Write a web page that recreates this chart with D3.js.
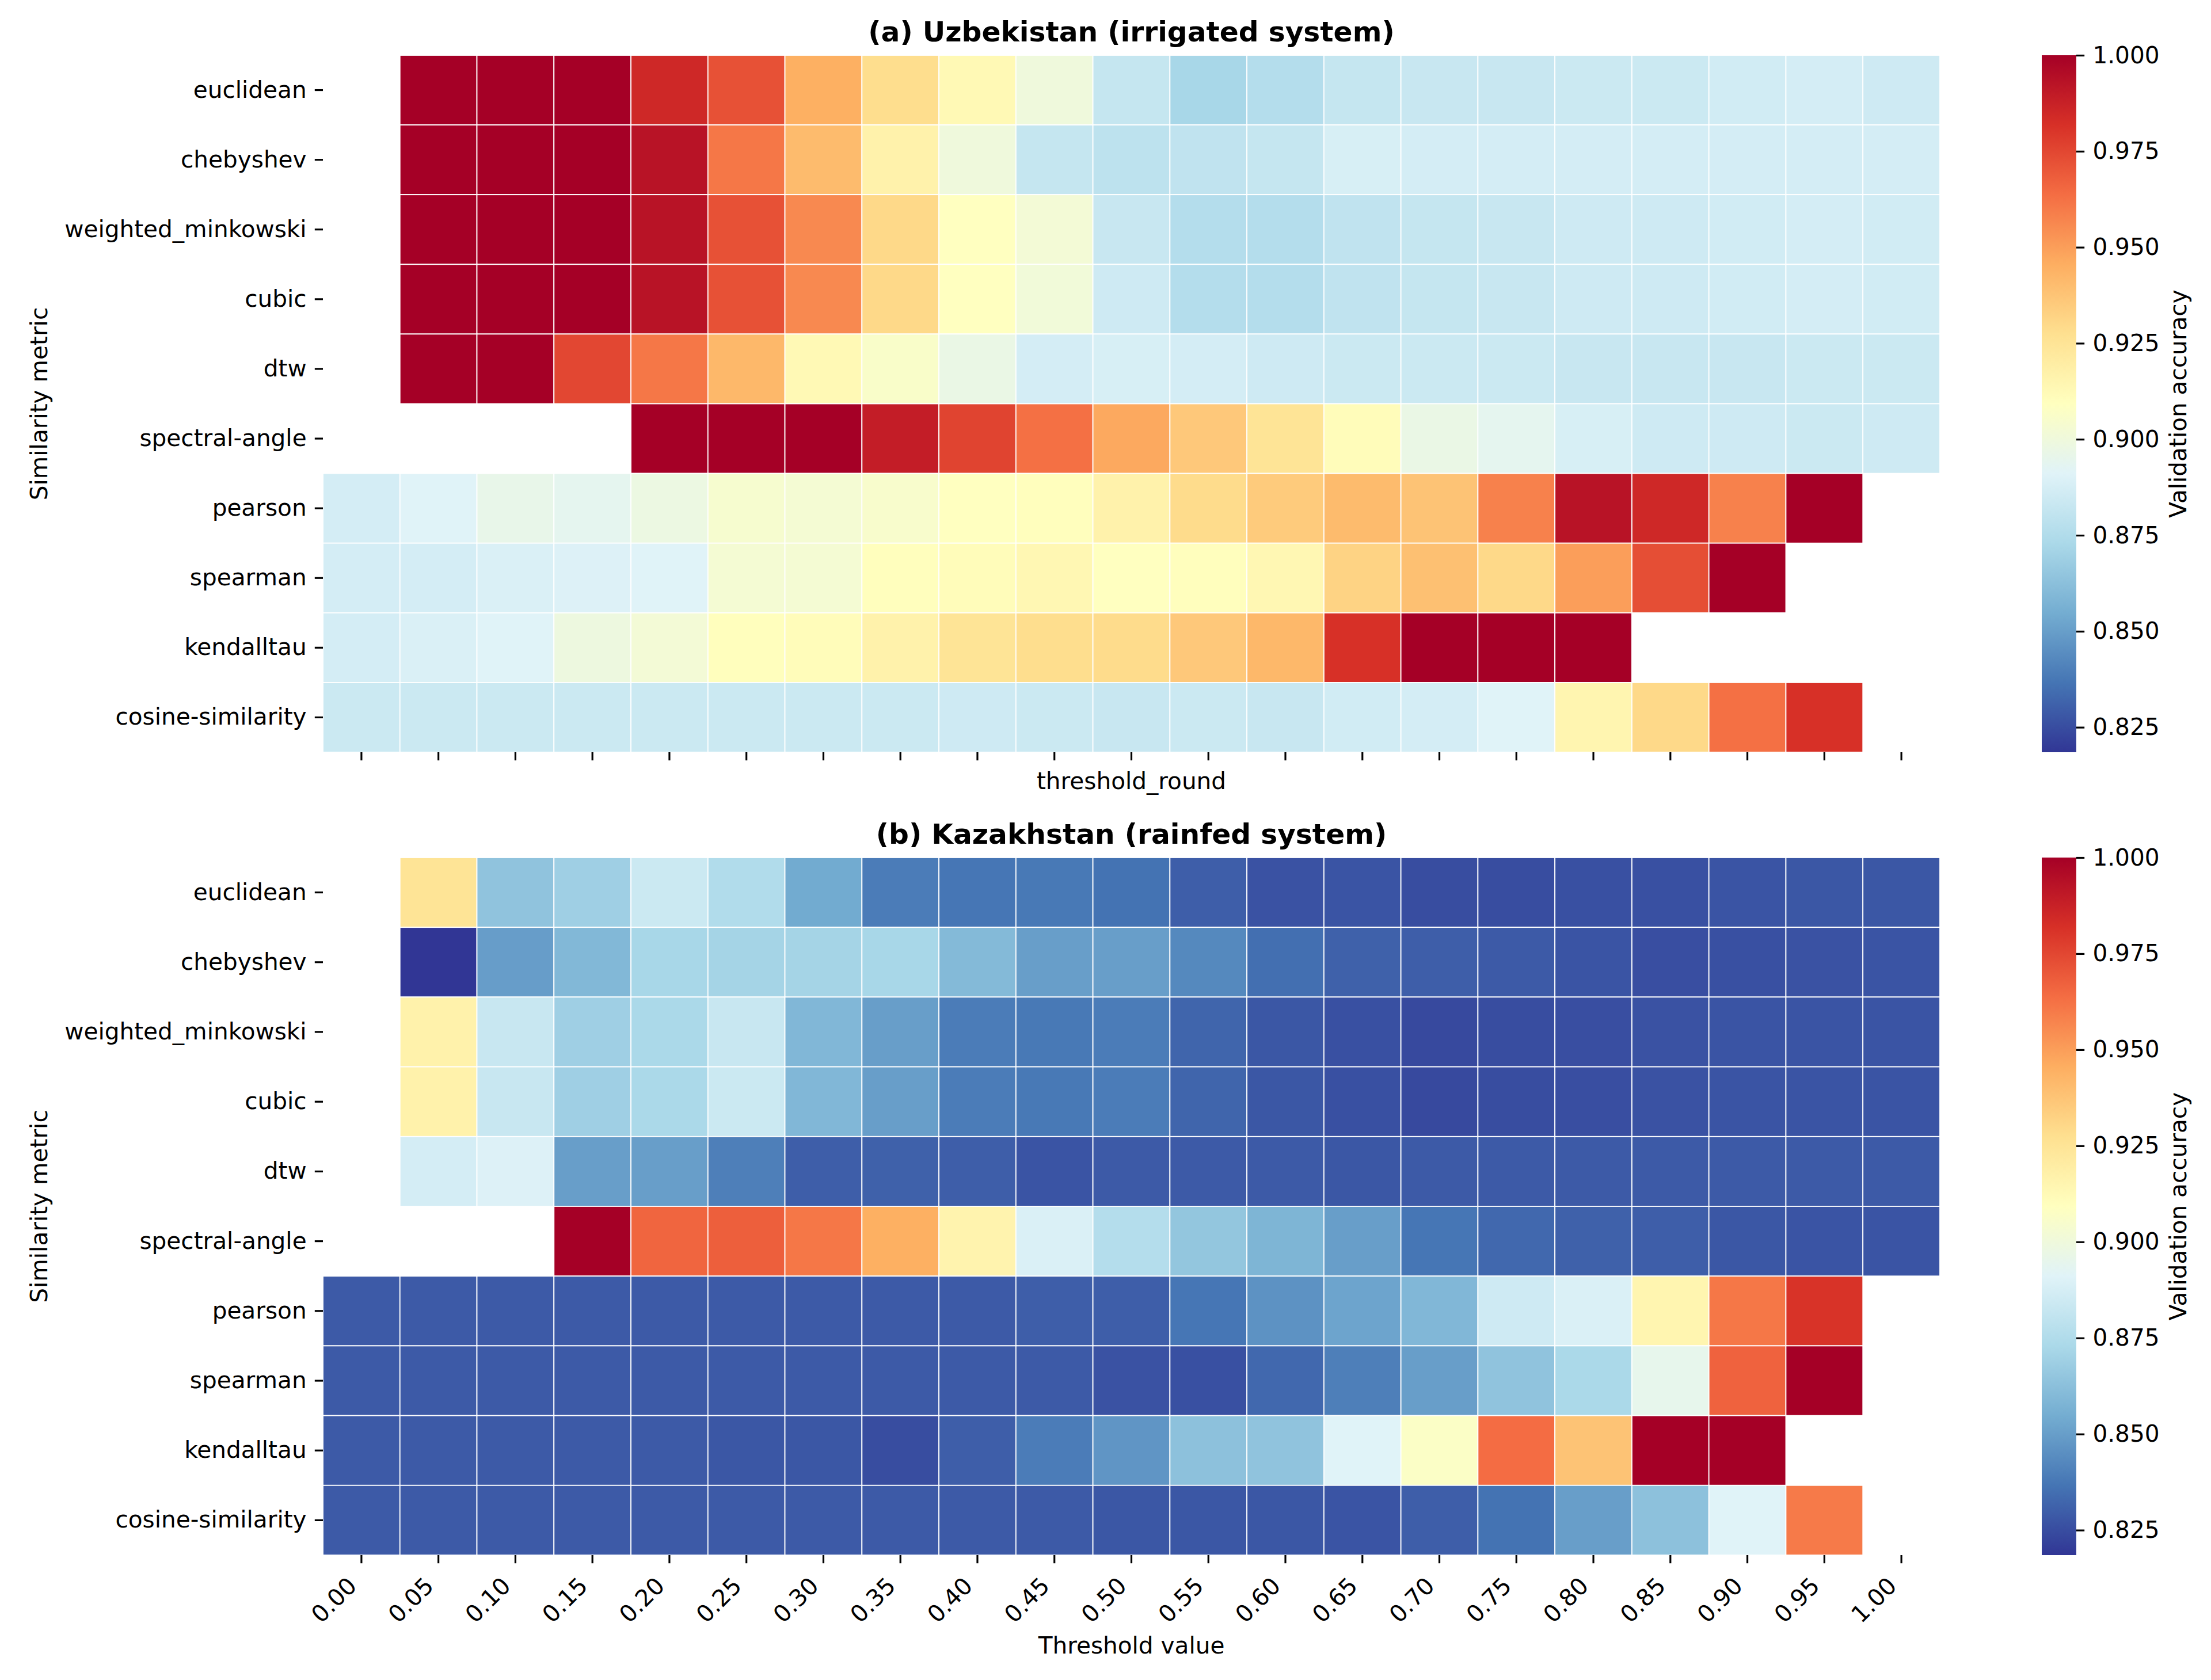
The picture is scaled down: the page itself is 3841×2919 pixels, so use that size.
<!DOCTYPE html>
<html>
<head>
<meta charset="utf-8">
<script src="https://cdnjs.cloudflare.com/ajax/libs/d3/7.8.5/d3.min.js"></script>
<style>
  body { margin: 0; background: #fff; }
</style>
</head>
<body>
<script>
// threshold columns and metric rows
const thresholds = ['0.00', '0.05', '0.10', '0.15', '0.20', '0.25', '0.30', '0.35', '0.40', '0.45', '0.50',
    '0.55', '0.60', '0.65', '0.70', '0.75', '0.80', '0.85', '0.90', '0.95', '1.00'];
const metrics = ['euclidean', 'chebyshev', 'weighted_minkowski', 'cubic', 'dtw', 'spectral-angle',
    'pearson', 'spearman', 'kendalltau', 'cosine-similarity'];

// (a) Uzbekistan - validation accuracy, one row per metric (null = no value)
const uzbAccuracy = [
    [null, 1.0, 1.0, 1.0, 0.985, 0.972, 0.945, 0.928, 0.913, 0.900, 0.882, 0.872, 0.876, 0.882, 0.883, 0.883, 0.884, 0.884, 0.886, 0.887, 0.885],
    [null, 1.0, 1.0, 1.0, 0.993, 0.961, 0.941, 0.917, 0.900, 0.882, 0.879, 0.880, 0.882, 0.888, 0.887, 0.887, 0.887, 0.887, 0.887, 0.887, 0.887],
    [null, 1.0, 1.0, 1.0, 0.993, 0.972, 0.956, 0.930, 0.909, 0.902, 0.883, 0.876, 0.876, 0.880, 0.882, 0.883, 0.885, 0.885, 0.886, 0.887, 0.886],
    [null, 1.0, 1.0, 1.0, 0.993, 0.972, 0.956, 0.930, 0.909, 0.901, 0.885, 0.876, 0.876, 0.880, 0.882, 0.883, 0.885, 0.885, 0.886, 0.887, 0.886],
    [null, 1.0, 1.0, 0.975, 0.961, 0.942, 0.913, 0.906, 0.897, 0.887, 0.888, 0.887, 0.885, 0.884, 0.884, 0.884, 0.883, 0.883, 0.883, 0.884, 0.884],
    [null, null, null, null, 1.0, 1.0, 1.0, 0.989, 0.976, 0.963, 0.947, 0.936, 0.925, 0.911, 0.897, 0.894, 0.888, 0.885, 0.885, 0.884, 0.885],
    [0.887, 0.891, 0.896, 0.894, 0.898, 0.904, 0.903, 0.905, 0.909, 0.910, 0.917, 0.929, 0.935, 0.941, 0.938, 0.958, 0.993, 0.985, 0.958, 1.0, null],
    [0.887, 0.887, 0.889, 0.890, 0.891, 0.903, 0.903, 0.910, 0.911, 0.914, 0.909, 0.910, 0.914, 0.932, 0.939, 0.930, 0.950, 0.973, 1.0, null, null],
    [0.887, 0.889, 0.891, 0.899, 0.902, 0.910, 0.911, 0.917, 0.925, 0.928, 0.929, 0.936, 0.942, 0.982, 1.0, 1.0, 1.0, null, null, null, null],
    [0.884, 0.884, 0.884, 0.884, 0.884, 0.884, 0.884, 0.884, 0.885, 0.884, 0.883, 0.884, 0.883, 0.886, 0.887, 0.891, 0.915, 0.930, 0.963, 0.982, null]
];

// (b) Kazakhstan - validation accuracy
const kazAccuracy = [
    [null, 0.925, 0.864, 0.869, 0.884, 0.875, 0.854, 0.839, 0.837, 0.838, 0.836, 0.830, 0.8265, 0.827, 0.825, 0.825, 0.826, 0.826, 0.827, 0.828, 0.828],
    [null, 0.8185, 0.8496, 0.8594, 0.872, 0.871, 0.871, 0.872, 0.860, 0.850, 0.850, 0.843, 0.835, 0.831, 0.830, 0.829, 0.827, 0.8255, 0.826, 0.8265, 0.827],
    [null, 0.917, 0.883, 0.869, 0.873, 0.883, 0.859, 0.850, 0.839, 0.838, 0.839, 0.832, 0.828, 0.826, 0.824, 0.825, 0.8255, 0.8265, 0.827, 0.827, 0.827],
    [null, 0.917, 0.883, 0.869, 0.873, 0.884, 0.859, 0.850, 0.839, 0.838, 0.839, 0.832, 0.828, 0.826, 0.824, 0.825, 0.8255, 0.8265, 0.827, 0.827, 0.827],
    [null, 0.887, 0.890, 0.850, 0.850, 0.840, 0.830, 0.831, 0.830, 0.827, 0.829, 0.829, 0.829, 0.828, 0.829, 0.829, 0.829, 0.829, 0.829, 0.829, 0.829],
    [null, null, null, 1.0, 0.966, 0.968, 0.961, 0.945, 0.916, 0.889, 0.876, 0.865, 0.858, 0.850, 0.837, 0.833, 0.831, 0.830, 0.828, 0.827, 0.827],
    [0.829, 0.829, 0.829, 0.829, 0.829, 0.829, 0.829, 0.829, 0.829, 0.830, 0.830, 0.837, 0.846, 0.852, 0.859, 0.885, 0.889, 0.915, 0.961, 0.981, null],
    [0.829, 0.829, 0.829, 0.829, 0.829, 0.829, 0.829, 0.829, 0.829, 0.829, 0.8265, 0.826, 0.833, 0.840, 0.850, 0.864, 0.873, 0.895, 0.967, 1.0, null],
    [0.829, 0.829, 0.829, 0.829, 0.829, 0.828, 0.828, 0.825, 0.830, 0.839, 0.847, 0.863, 0.864, 0.891, 0.907, 0.964, 0.938, 1.0, 1.0, null, null],
    [0.829, 0.829, 0.829, 0.829, 0.829, 0.829, 0.829, 0.829, 0.829, 0.829, 0.828, 0.828, 0.828, 0.827, 0.830, 0.836, 0.850, 0.863, 0.891, 0.960, null]
];

const cbarTicks = [0.825, 0.85, 0.875, 0.9, 0.925, 0.95, 0.975, 1.0];

// RdYlBu reversed (low -> high)
const cmap = ['#313695', '#4575b4', '#74add1', '#abd9e9', '#e0f3f8', '#ffffbf',
    '#fee090', '#fdae61', '#f46d43', '#d73027', '#a50026'];

const svgWidth = 3841;
const svgHeight = 2919;
const fontSize = 40.6;
const titleSize = 48.7;
const tickLen = 14.2;
const tickWidth = 3.2;

const svg = d3.select('body').append('svg')
    .attr('width', svgWidth)
    .attr('height', svgHeight)
    .style('font-family', '"DejaVu Sans", sans-serif');

svg.append('rect').attr('width', svgWidth).attr('height', svgHeight).attr('fill', '#fff');

const plotLeft = 561, plotRight = 3370;
const cbarLeft = 3547, cbarWidth = 60;
const midX = (plotLeft + plotRight) / 2;

const allValues = uzbAccuracy.flat().concat(kazAccuracy.flat()).filter(v => v != null);
const vmin = d3.min(allValues);
const vmax = d3.max(allValues);

const color = d3.scaleLinear()
    .domain(cmap.map((c, i) => vmin + i * (vmax - vmin) / (cmap.length - 1)))
    .range(cmap)
    .clamp(true);

const grad = svg.append('defs').append('linearGradient')
    .attr('id', 'cbarGrad')
    .attr('x1', 0).attr('y1', 1).attr('x2', 0).attr('y2', 0);
grad.selectAll('stop')
    .data(cmap)
    .join('stop')
    .attr('offset', (c, i) => i / (cmap.length - 1))
    .attr('stop-color', c => c);

const x = d3.scaleBand().domain(thresholds).range([plotLeft, plotRight]);

const panels = [
    { title: '(a) Uzbekistan (irrigated system)', values: uzbAccuracy, top: 96, bottom: 1307,
      xlabel: 'threshold_round', xlabelY: 1371, tickLabels: false },
    { title: '(b) Kazakhstan (rainfed system)', values: kazAccuracy, top: 1490, bottom: 2702,
      xlabel: 'Threshold value', xlabelY: 2873, tickLabels: true }
];

function styleAxis(a) {
    a.select('.domain').remove();
    a.attr('font-family', null).attr('font-size', null);
    a.selectAll('line').attr('stroke', '#000').attr('stroke-width', tickWidth);
    a.selectAll('text').attr('fill', '#000').style('font-size', fontSize + 'px');
}

panels.forEach(p => {
    const g = svg.append('g');
    const y = d3.scaleBand().domain(metrics).range([p.top, p.bottom]);

    const cells = [];
    p.values.forEach((row, i) => row.forEach((v, j) => {
        if (v != null) cells.push({ metric: metrics[i], threshold: thresholds[j], value: v });
    }));

    g.append('g').selectAll('rect')
        .data(cells)
        .join('rect')
        .attr('x', d => x(d.threshold))
        .attr('y', d => y(d.metric))
        .attr('width', x.bandwidth())
        .attr('height', y.bandwidth())
        .attr('fill', d => color(d.value))
        .attr('stroke', '#fff')
        .attr('stroke-width', 1.8);

    g.append('g')
        .attr('transform', 'translate(' + plotLeft + ',0)')
        .call(d3.axisLeft(y).tickSize(tickLen).tickPadding(tickLen))
        .call(styleAxis);

    const xAxis = g.append('g')
        .attr('transform', 'translate(0,' + p.bottom + ')')
        .call(d3.axisBottom(x).tickSize(tickLen))
        .call(styleAxis);

    if (p.tickLabels) {
        xAxis.selectAll('text')
            .attr('x', 0).attr('y', 0).attr('dy', '0.35em')
            .attr('text-anchor', 'end')
            .attr('transform', 'translate(-16,46) rotate(-45)');
    } else {
        xAxis.selectAll('text').remove();
    }

    g.append('text')
        .attr('x', midX).attr('y', p.top - 24.3)
        .attr('text-anchor', 'middle')
        .style('font-size', titleSize + 'px')
        .style('font-weight', 'bold')
        .text(p.title);

    g.append('text')
        .attr('x', midX).attr('y', p.xlabelY)
        .attr('text-anchor', 'middle')
        .style('font-size', fontSize + 'px')
        .text(p.xlabel);

    g.append('text')
        .attr('transform', 'translate(82,' + (p.top + p.bottom) / 2 + ') rotate(-90)')
        .attr('text-anchor', 'middle')
        .style('font-size', fontSize + 'px')
        .text('Similarity metric');

    // colorbar
    const cy = d3.scaleLinear().domain([vmin, vmax]).range([p.bottom, p.top]);
    g.append('rect')
        .attr('x', cbarLeft).attr('y', p.top)
        .attr('width', cbarWidth).attr('height', p.bottom - p.top)
        .attr('fill', 'url(#cbarGrad)');

    g.append('g')
        .attr('transform', 'translate(' + (cbarLeft + cbarWidth) + ',0)')
        .call(d3.axisRight(cy).tickValues(cbarTicks).tickFormat(d3.format('.3f'))
            .tickSize(tickLen).tickPadding(tickLen))
        .call(styleAxis);

    g.append('text')
        .attr('transform', 'translate(3798,' + (p.top + p.bottom) / 2 + ') rotate(-90)')
        .attr('text-anchor', 'middle')
        .style('font-size', fontSize + 'px')
        .text('Validation accuracy');
});
</script>
</body>
</html>
